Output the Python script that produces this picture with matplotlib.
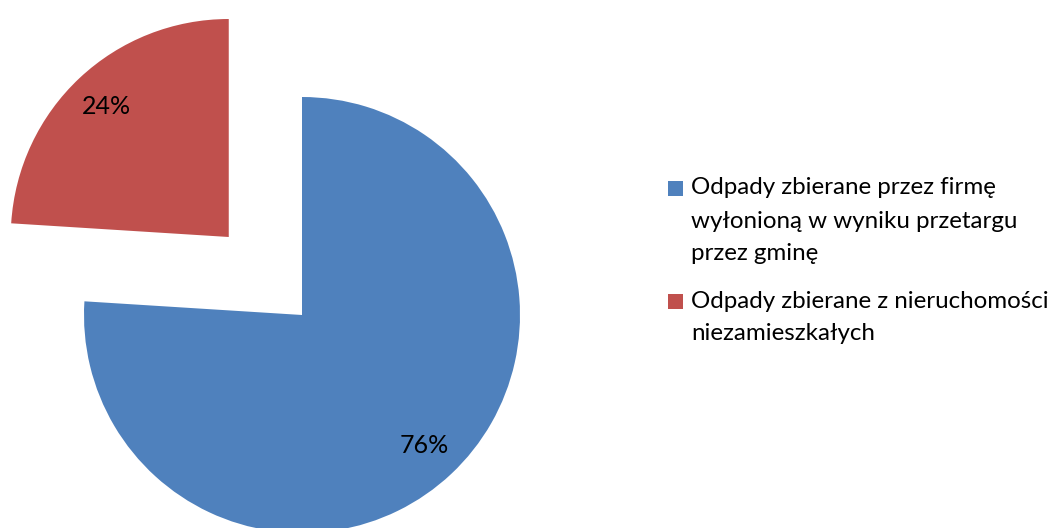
import matplotlib
matplotlib.use("Agg")
import matplotlib.pyplot as plt
from matplotlib.patches import Rectangle

plt.rcParams["font.family"] = ["Lato", "DejaVu Sans"]

# ── Data ───────────────────────────────────────────────────────
labels = [
    "Odpady zbierane przez firmę\nwyłonioną w wyniku przetargu\nprzez gminę",
    "Odpady zbierane z nieruchomości\nniezamieszkałych",
]
shares = [76, 24]
colors = ["#4F81BD", "#C0504D"]

# ── Layout (pixel units, y up) ─────────────────────────────────
W, H = 1059, 528
CENTER = (302, H - 315)
RADIUS = 218
EXPLODE = [0, 107]
FS = 18
FS_LEG = 17.4

fig = plt.figure(figsize=(W / 100, H / 100), dpi=100)
ax = fig.add_axes([0, 0, 1, 1])
wedges, _, autotexts = ax.pie(
    shares, colors=colors, startangle=90, counterclock=False,
    explode=EXPLODE, radius=RADIUS, center=CENTER,
    autopct="%1.0f%%", pctdistance=0.82,
    textprops={"fontsize": FS, "color": "black"},
)
ax.set_xlim(0, W)
ax.set_ylim(0, H)
ax.set_aspect("equal")
ax.axis("off")

# legend drawn by hand: square + wrapped label lines
line_pitch = 33
tops = [188, 301]
for w, lab, y0 in zip(wedges, labels, tops):
    ax.add_patch(Rectangle((668, H - y0 - 7.5), 15, 15,
                           facecolor=w.get_facecolor(), edgecolor="none"))
    for k, line in enumerate(lab.split("\n")):
        ax.text(691, H - y0 - k * line_pitch, line, fontsize=FS_LEG,
                va="center", ha="left", color="black")

fig.savefig("out.png", dpi=100)
